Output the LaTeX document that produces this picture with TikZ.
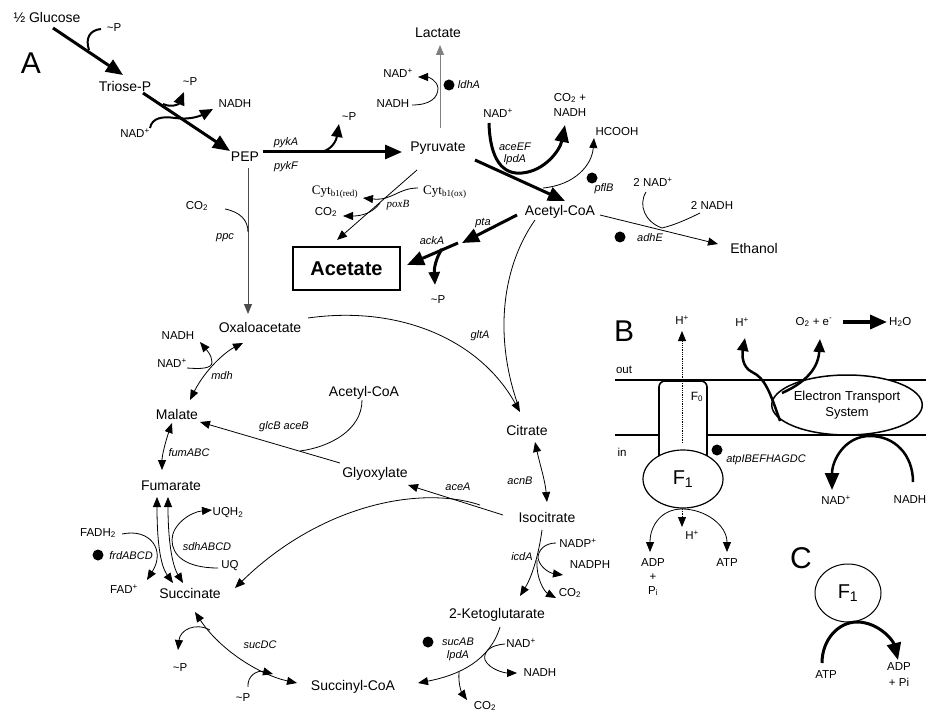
\documentclass[tikz,border=0pt]{standalone}
\usepackage{fontspec}
\setmainfont{Liberation Sans}
\newfontfamily\seriff{Liberation Serif}
\usetikzlibrary{arrows.meta,shapes.geometric}
\begin{document}
\begin{tikzpicture}[x=1pt,y=-1pt,
  met/.style={font=\fontsize{14}{16}\selectfont, inner sep=0pt},
  sm/.style={font=\fontsize{11.5}{13}\selectfont, inner sep=0pt},
  gene/.style={font=\fontsize{11}{13}\selectfont\itshape, inner sep=0pt},
  big/.style={font=\fontsize{30}{32}\selectfont, inner sep=0pt},
  cyt/.style={font=\seriff\fontsize{13}{15}\selectfont, inner sep=0pt},
  dot/.style={fill, circle, inner sep=0pt, minimum size=11pt},
  thn/.style={line width=0.8pt},
  thk/.style={line width=3pt},
  mid/.style={line width=2pt},
  >={Triangle[length=10pt,width=8pt]},
  tha/.style={-{Triangle[length=17pt,width=14pt]}},
  tma/.style={-{Triangle[length=13pt,width=11pt]}}]
\useasboundingbox (0,0) rectangle (926,711);

% ---------- Panel A : nodes ----------
\node[big] (lA) at (31,63) {A};
\node[met] (glc) at (47,17) {½ Glucose};
\node[met] (tri) at (125,86) {Triose-P};
\node[met] (pep) at (245,157) {PEP};
\node[met] (pyr) at (438,148) {Pyruvate};
\node[met] (lac) at (438,33) {Lactate};
\node[met] (acc) at (560,212) {Acetyl-CoA};
\node[met] (eth) at (754,248) {Ethanol};
\node[met] (oaa) at (260,327) {Oxaloacetate};
\node[met] (cit) at (527,430) {Citrate};
\node[met] (icit) at (547,517) {Isocitrate};
\node[met] (kg) at (497,615) {2-Ketoglutarate};
\node[met] (scoa) at (353,687) {Succinyl-CoA};
\node[met] (suc) at (190,593) {Succinate};
\node[met] (fum) at (171,486) {Fumarate};
\node[met] (mal) at (177,414) {Malate};
\node[met] (glx) at (375,474) {Glyoxylate};
\node[met] (acc2) at (364,393) {Acetyl-CoA};
\node[draw, line width=2.2pt, minimum width=107pt, minimum height=43pt, inner sep=0pt,
      font=\fontsize{20}{22}\selectfont\bfseries] (ace) at (346.5,268.5) {Acetate};

\node[sm] (p1) at (114,28) {\textasciitilde P};
\node[sm] (p2) at (190,82) {\textasciitilde P};
\node[sm] (nad1) at (135,133) {NAD\textsuperscript{+}};
\node[sm] (nadh1) at (235,104) {NADH};
\node[sm] (p3) at (349,117) {\textasciitilde P};
\node[gene] (pykA) at (286,143) {pykA};
\node[gene] (pykF) at (286,167) {pykF};
\node[dot] (d1) at (449,85) {};
\node[gene] (ldhA) at (469,85) {ldhA};
\node[sm] (nad2) at (398,73) {NAD\textsuperscript{+}};
\node[sm] (nadh2) at (393,104) {NADH};
\node[sm] (nad3) at (498,113) {NAD\textsuperscript{+}};
\node[sm] (co2a) at (570,98) {CO\textsubscript{2} +};
\node[sm] (nadh3) at (570,113) {NADH};
\node[gene] (aceEF) at (515,147) {aceEF};
\node[gene] (lpdA1) at (515,160) {lpdA};
\node[sm] (hcooh) at (617,132) {HCOOH};
\node[dot] (d2) at (592,178) {};
\node[gene] (pflB) at (604,189) {pflB};
\node[sm] (nad4) at (653,182) {2 NAD\textsuperscript{+}};
\node[sm] (nadh4) at (712,205) {2 NADH};
\node[dot] (d3) at (620,237) {};
\node[gene] (adhE) at (650,238) {adhE};
\node[cyt] (cytox) at (445,192) {Cyt\textsubscript{b1(ox)}};
\node[cyt] (cytred) at (335,192) {Cyt\textsubscript{b1(red)}};
\node[sm] (co2b) at (326,212) {CO\textsubscript{2}};
\node[font=\seriff\fontsize{11}{13}\selectfont\itshape, inner sep=0pt] (poxB) at (398,205) {poxB};
\node[gene] (pta) at (483,223) {pta};
\node[gene] (ackA) at (432,241) {ackA};
\node[sm] (p4) at (438,300) {\textasciitilde P};
\node[sm] (co2c) at (197,206) {CO\textsubscript{2}};
\node[gene] (ppc) at (225,238) {ppc};
\node[gene] (gltA) at (480,336) {gltA};
\node[sm] (nadh5) at (178,336) {NADH};
\node[sm] (nad5) at (172,363) {NAD\textsuperscript{+}};
\node[gene] (mdh) at (222,376) {mdh};
\node[gene] (glcB) at (284,427) {glcB aceB};
\node[gene] (fumABC) at (189,453) {fumABC};
\node[gene] (aceA) at (458,487) {aceA};
\node[gene] (acnB) at (520,481) {acnB};
\node[sm] (fadh2) at (98,533) {FADH\textsubscript{2}};
\node[dot] (d4) at (98,555) {};
\node[gene] (frd) at (131,556) {frdABCD};
\node[sm] (fad) at (124,589) {FAD\textsuperscript{+}};
\node[sm] (uqh2) at (228,513) {UQH\textsubscript{2}};
\node[gene] (sdh) at (207,547) {sdhABCD};
\node[sm] (uq) at (230,566) {UQ};
\node[gene] (icdA) at (522,557) {icdA};
\node[sm] (nadp) at (578,543) {NADP\textsuperscript{+}};
\node[sm] (nadph) at (590,565) {NADPH};
\node[sm] (co2d) at (570,593) {CO\textsubscript{2}};
\node[dot] (d5) at (428,642) {};
\node[gene] (sucAB) at (458,642) {sucAB};
\node[gene] (lpdA2) at (458,656) {lpdA};
\node[sm] (nad6) at (521,643) {NAD\textsuperscript{+}};
\node[sm] (nadh6) at (540,673) {NADH};
\node[sm] (co2e) at (485,706) {CO\textsubscript{2}};
\node[gene] (sucDC) at (260,645) {sucDC};
\node[sm] (p5) at (243,698) {\textasciitilde P};
\node[sm] (p6) at (180,668) {\textasciitilde P};

% ---------- Panel A : connectors ----------
\draw[thk,tha] (53,28) -- (123,75);
\draw[mid] (89,50) .. controls (85,38) and (90,30) .. (101,29);
\draw[thk,tha] (143,93) -- (230,151);
\draw[mid,tma] (163,104) .. controls (172,108) and (179,104) .. (184,92);
\draw[mid,tma] (150,128) .. controls (152,118) and (162,116) .. (175,118) .. controls (190,120) and (200,116) .. (213,109);
\draw[thk,tha] (263,152) -- (402,152);
\draw[mid,tma] (318,152) .. controls (330,152) and (336,142) .. (339,124);
\draw[line width=1pt, gray, ->] (440,128) -- (440,45);
\draw[thn,->] (412,105) .. controls (430,105) and (438,98) .. (438,88) .. controls (437,80) and (428,77) .. (418,77);
\draw[thk,tha] (475,160) -- (565,201);
\draw[thk,tha] (489,123) .. controls (490,160) and (503,175) .. (522,173) .. controls (545,171) and (560,150) .. (565,125);
\draw[thn,->] (543,188) .. controls (575,185) and (592,165) .. (594,138);
\draw[thn,->] (600,215) -- (718,244);
\draw[thn] (646,192) .. controls (638,205) and (645,222) .. (662,228) .. controls (675,225) and (690,218) .. (700,213);
\draw[thn,->] (417,170) -- (337,240);
\draw[thn,->] (418,188) .. controls (398,188) and (392,201) .. (363,198);
\draw[thn,->] (380,203) .. controls (372,214) and (360,216) .. (343,216);
\draw[thk,tha] (517,215) -- (462,243);
\draw[thk,tha] (458,243) -- (407,265);
\draw[thk,tma] (442,249) .. controls (436,258) and (434,268) .. (435,285);
\draw[line width=1pt, gray!60!black, ->] (248,168) -- (248,314);
\draw[thn] (225,209) .. controls (240,212) and (248,220) .. (248,232);
\draw[thn,<->] (243,343) .. controls (225,352) and (205,370) .. (190,400);
\draw[thn,->] (187,368) .. controls (200,369) and (212,369) .. (212,362) .. controls (212,355) and (205,348) .. (200,342);
\draw[thn,<->] (172,423) .. controls (166,440) and (162,455) .. (162,470);
\draw[thn,<->] (157,497) .. controls (157,540) and (160,565) .. (173,583);
\draw[thn,<->] (168,497) .. controls (168,540) and (172,565) .. (183,583);
\draw[thn,->] (122,534) .. controls (150,528) and (166,550) .. (147,580);
\draw[thn,->] (218,568) .. controls (185,568) and (172,555) .. (172,540) .. controls (172,525) and (190,512) .. (212,510);
\draw[thn] (362,400) .. controls (362,430) and (330,447) .. (300,451);
\draw[thn,->] (340,463) -- (200,422);
\draw[thn,->] (503,515) -- (408,485);
\draw[thn,->] (480,505) .. controls (420,485) and (320,505) .. (235,588);
\draw[thn,->] (308,318) .. controls (400,305) and (480,340) .. (520,412);
\draw[thn] (535,220) .. controls (500,270) and (495,340) .. (518,405);
\draw[thn,<->] (535,442) .. controls (540,465) and (545,480) .. (547,502);
\draw[thn,->] (542,530) .. controls (538,560) and (530,580) .. (520,596);
\draw[thn,->] (556,543) .. controls (545,543) and (538,550) .. (538,558) .. controls (540,568) and (550,573) .. (563,575);
\draw[thn,->] (537,560) .. controls (536,580) and (545,592) .. (556,598);
\draw[thn,->] (500,627) .. controls (490,660) and (460,675) .. (418,683);
\draw[thn,->] (505,644) .. controls (490,645) and (483,652) .. (485,660) .. controls (490,670) and (505,673) .. (517,673);
\draw[thn,->] (459,672) .. controls (458,685) and (462,693) .. (467,700);
\draw[thn,<->] (195,612) .. controls (220,650) and (260,675) .. (297,683);
\draw[thn,->] (248,687) .. controls (247,675) and (258,670) .. (273,674);
\draw[thn,->] (210,630) .. controls (195,622) and (180,630) .. (178,650);

% ---------- Panel B ----------
\node[big] (lB) at (624,331) {B};
\draw[line width=2.5pt] (615,380) -- (926,380);
\draw[line width=2.5pt] (615,435) -- (926,435);
\node[sm] (out) at (624,370) {out};
\node[sm] (in) at (622,452) {in};
\draw[line width=1.6pt, fill=white, rounded corners=6pt] (659,462) -- (659,381) -- (707,381) -- (707,462);
\draw[thn, densely dotted, ->] (682,443) -- (682,331);
\node[font=\fontsize{12}{14}\selectfont, inner sep=0pt] (f0) at (697,397) {F\textsubscript{0}};
\node[draw, line width=1.2pt, fill=white, ellipse, minimum width=80pt, minimum height=58pt, inner sep=0pt,
      font=\fontsize{20}{22}\selectfont] (f1b) at (683,479) {F\textsubscript{1}};
\node[sm] (hp1) at (682,320) {H\textsuperscript{+}};
\draw[thn, densely dotted, ->] (682,509) -- (682,527);
\node[sm] (hp2) at (692,535) {H\textsuperscript{+}};
\draw[thn,->] (682,509) .. controls (662,509) and (650,525) .. (650,552);
\draw[thn,->] (682,509) .. controls (705,509) and (727,525) .. (727,552);
\node[sm] (adp1) at (653,563) {ADP};
\node[sm] (plus1) at (653,577) {+};
\node[sm] (pi1) at (653,591) {P\textsubscript{i}};
\node[sm] (atp1) at (727,563) {ATP};
\node[dot] (d6) at (717,450) {};
\node[gene] (atp) at (766,460) {atpIBEFHAGDC};
\node[draw, line width=1.5pt, fill=white, ellipse, minimum width=128pt, minimum height=60pt, inner sep=0pt,
      align=center, font=\fontsize{13}{16}\selectfont] (ets) at (847,405) {Electron Transport\\System};
\draw[line width=2.5pt,tma] (780,421) .. controls (770,392) and (765,378) .. (752,372) .. controls (742,367) and (742,355) .. (745,338);
\draw[line width=2.5pt,tma] (782,393) .. controls (800,385) and (818,372) .. (820,339);
\node[sm] (hp3) at (742,322) {H\textsuperscript{+}};
\node[sm] (o2) at (814,322) {O\textsubscript{2} + e\textsuperscript{-}};
\draw[line width=3.5pt,tha] (843,322) -- (887,322);
\node[sm, anchor=west] (h2o) at (889,322) {H\textsubscript{2}O};
\draw[line width=2.5pt,tha] (913,482) .. controls (913,455) and (895,436) .. (870,436) .. controls (845,436) and (832,460) .. (832,490);
\node[sm] (nad7) at (836,500) {NAD\textsuperscript{+}};
\node[sm] (nadh7) at (910,500) {NADH};

% ---------- Panel C ----------
\node[big] (lC) at (801,558) {C};
\node[draw, line width=1pt, ellipse, minimum width=66pt, minimum height=58pt, inner sep=0pt,
      font=\fontsize{20}{22}\selectfont] (f1c) at (848,593) {F\textsubscript{1}};
\draw[thk,tha] (822,663) .. controls (822,640) and (838,622) .. (857,622) .. controls (878,622) and (893,640) .. (898,660);
\node[sm] (atp2) at (826,675) {ATP};
\node[sm] (adp2) at (899,667) {ADP};
\node[sm] (pi2) at (899,682) {+ Pi};
\end{tikzpicture}
\end{document}
